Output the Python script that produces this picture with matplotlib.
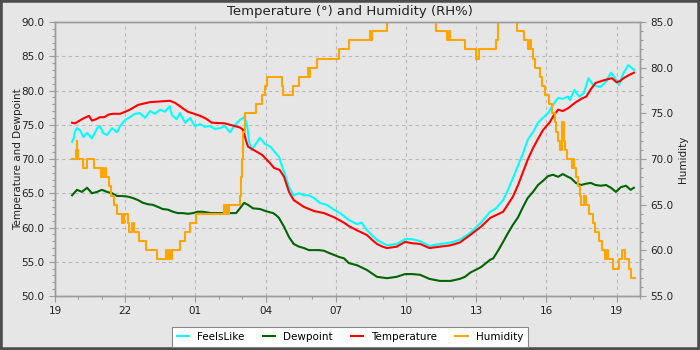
import matplotlib
matplotlib.use("Agg")
import matplotlib.pyplot as plt
from matplotlib.patches import Rectangle
from matplotlib.ticker import MultipleLocator, FuncFormatter

# Hours elapsed since 19:00 and readings for each series
temp_t = [0.73, 0.85, 1.0, 1.2, 1.45, 1.58, 1.75, 1.92, 2.1, 2.3, 2.48, 2.78, 3.0, 3.2, 3.35,
          3.55, 3.8, 4.06, 4.49, 4.91, 5.13, 5.34, 5.5, 5.68, 5.95, 6.2, 6.45, 6.7, 7.26, 7.69,
          7.9, 8.03, 8.1, 8.18, 8.25, 8.55, 8.85, 9.19, 9.36, 9.6, 9.79, 10.0, 10.2, 10.64,
          11.07, 11.5, 11.92, 12.35, 12.56, 12.9, 13.33, 13.55, 13.76, 14.0, 14.19, 14.6,
          14.96, 15.26, 15.6, 16.0, 16.45, 16.9, 17.3, 17.74, 18.2, 18.6, 19.15, 19.57, 19.8,
          20.0, 20.2, 20.43, 20.65, 20.85, 21.15, 21.3, 21.5, 21.7, 21.92, 22.26, 22.5, 22.7,
          22.9, 23.1, 23.46, 23.8, 24.0, 24.15, 24.3, 24.5, 24.74]
temperature = [75.3, 75.2, 75.5, 75.9, 76.3, 75.6, 75.8, 76.1, 76.1, 76.5, 76.6, 76.6, 76.9,
               77.2, 77.5, 77.9, 78.1, 78.3, 78.4, 78.5, 78.2, 77.7, 77.3, 76.9, 76.6, 76.3,
               75.9, 75.3, 75.2, 74.8, 74.6, 74.3, 73.5, 72.5, 71.8, 71.2, 70.6, 69.4, 68.7,
               68.4, 67.4, 65.2, 64.0, 63.0, 62.4, 62.1, 61.5, 60.7, 60.2, 59.6, 58.9, 58.2,
               57.6, 57.2, 57.0, 57.2, 57.9, 57.7, 57.6, 57.0, 57.2, 57.4, 57.8, 58.9, 60.1,
               61.4, 62.3, 64.5, 66.3, 68.1, 69.9, 71.6, 73.0, 74.2, 75.4, 76.3, 77.2, 77.0,
               77.4, 78.3, 78.8, 79.1, 80.2, 81.1, 81.5, 81.8, 81.2, 81.4, 81.8, 82.2, 82.6]

feels_t = [0.73, 0.8, 0.85, 0.94, 1.07, 1.22, 1.37, 1.58, 1.8, 1.92, 2.05, 2.22, 2.44, 2.65,
           2.78, 3.0, 3.2, 3.42, 3.63, 3.85, 4.06, 4.27, 4.49, 4.7, 4.9, 5.0, 5.2, 5.34, 5.56,
           5.77, 5.98, 6.2, 6.4, 6.62, 6.84, 7.05, 7.26, 7.48, 7.7, 7.9, 8.08, 8.2, 8.3, 8.4,
           8.6, 8.76, 8.97, 9.2, 9.4, 9.57, 9.79, 10.0, 10.2, 10.43, 10.64, 10.85, 11.07,
           11.32, 11.62, 11.92, 12.18, 12.56, 12.9, 13.1, 13.33, 13.76, 14.19, 14.6, 14.96,
           15.26, 15.6, 16.0, 16.45, 16.9, 17.3, 17.74, 18.2, 18.6, 18.85, 19.15, 19.36,
           19.57, 19.79, 20.0, 20.2, 20.43, 20.64, 20.85, 21.07, 21.28, 21.5, 21.7, 21.92,
           22.0, 22.2, 22.4, 22.6, 22.8, 23.0, 23.3, 23.5, 23.76, 23.9, 24.1, 24.3, 24.5, 24.74]
feels_like = [72.5, 73.0, 74.0, 74.5, 74.2, 73.2, 73.8, 73.0, 74.5, 74.8, 73.8, 73.5, 74.5,
              73.9, 74.8, 75.7, 76.1, 76.6, 76.7, 76.0, 77.0, 76.6, 77.2, 76.9, 77.7, 76.4,
              75.8, 76.7, 75.3, 76.0, 74.8, 75.1, 74.7, 74.8, 74.4, 74.5, 74.8, 73.9, 75.0,
              75.7, 76.1, 75.1, 72.5, 71.3, 72.3, 73.1, 72.2, 71.8, 71.0, 70.3, 68.1, 65.9,
              64.7, 65.0, 64.7, 64.7, 64.3, 63.6, 63.3, 62.6, 62.1, 61.1, 60.5, 60.7, 59.6,
              58.2, 57.4, 57.6, 58.3, 58.3, 58.0, 57.3, 57.6, 57.8, 58.2, 59.2, 60.7, 62.3,
              62.8, 64.0, 65.5, 67.2, 69.1, 70.8, 72.8, 73.9, 75.3, 76.0, 76.7, 77.9, 78.9,
              78.8, 79.1, 78.6, 80.1, 79.1, 79.6, 81.8, 80.8, 80.5, 81.1, 82.6, 82.0, 80.8,
              82.6, 83.7, 83.0]

dew_t = [0.73, 0.94, 1.15, 1.37, 1.58, 1.8, 2.0, 2.22, 2.44, 2.65, 2.86, 3.12, 3.33, 3.55,
         3.76, 3.97, 4.19, 4.4, 4.6, 4.83, 5.04, 5.26, 5.47, 5.68, 5.9, 6.1, 6.3, 6.67, 7.1,
         7.52, 7.74, 7.95, 8.08, 8.25, 8.46, 8.76, 9.0, 9.32, 9.45, 9.57, 9.79, 10.0, 10.2,
         10.43, 10.64, 10.85, 11.28, 11.5, 11.7, 11.92, 12.14, 12.35, 12.56, 12.9, 13.33,
         13.76, 14.19, 14.6, 14.96, 15.26, 15.6, 16.0, 16.45, 16.9, 17.3, 17.52, 17.74, 18.2,
         18.6, 18.73, 18.95, 19.15, 19.36, 19.57, 19.79, 20.0, 20.2, 20.43, 20.64, 20.85,
         21.07, 21.28, 21.5, 21.7, 21.92, 22.05, 22.26, 22.48, 22.7, 22.9, 23.1, 23.33,
         23.55, 23.76, 23.97, 24.19, 24.4, 24.6, 24.74]
dewpoint = [64.7, 65.5, 65.2, 65.8, 65.0, 65.2, 65.5, 65.2, 65.0, 64.6, 64.6, 64.5, 64.3,
            64.0, 63.6, 63.4, 63.3, 63.0, 62.7, 62.6, 62.3, 62.1, 62.1, 62.0, 62.1, 62.3,
            62.3, 62.1, 62.1, 62.1, 62.1, 63.0, 63.6, 63.3, 62.8, 62.7, 62.4, 62.1, 61.8,
            61.4, 60.1, 58.6, 57.6, 57.2, 57.0, 56.7, 56.7, 56.6, 56.3, 56.0, 55.7, 55.5,
            54.8, 54.5, 53.8, 52.8, 52.6, 52.8, 53.2, 53.2, 53.1, 52.5, 52.2, 52.2, 52.5,
            52.8, 53.4, 54.2, 55.3, 55.5, 56.7, 57.9, 59.2, 60.4, 61.5, 63.0, 64.3, 65.2,
            66.2, 66.8, 67.5, 67.7, 67.4, 67.8, 67.4, 67.2, 66.5, 66.2, 66.4, 66.5, 66.2,
            66.1, 66.2, 65.8, 65.2, 65.9, 66.1, 65.5, 65.8]

hum_t = [0.73, 0.88, 0.92, 0.96, 1.0, 1.2, 1.35, 1.65, 1.95, 2.0, 2.05, 2.15, 2.2, 2.3, 2.4,
         2.52, 2.65, 2.85, 2.95, 3.1, 3.18, 3.3, 3.38, 3.6, 3.9, 4.36, 4.74, 4.8, 4.86, 4.92,
         5.0, 5.34, 5.56, 5.77, 6.03, 7.22, 7.3, 7.35, 7.4, 7.45, 7.52, 7.9, 7.95, 8.0, 8.05,
         8.1, 8.59, 8.85, 8.97, 9.05, 9.7, 9.75, 10.17, 10.42, 10.8, 10.85, 10.9, 11.2, 12.14,
         12.56, 13.45, 13.5, 13.55, 14.19, 16.3, 16.75, 16.85, 16.9, 17.52, 17.99, 18.12,
         18.85, 18.95, 19.74, 20.04, 20.2, 20.3, 20.34, 20.43, 20.51, 20.73, 20.81, 20.94,
         21.11, 21.24, 21.37, 21.41, 21.5, 21.58, 21.67, 21.75, 21.79, 21.88, 22.01, 22.09,
         22.14, 22.18, 22.26, 22.35, 22.44, 22.48, 22.61, 22.69, 22.82, 22.99, 23.08, 23.25,
         23.38, 23.5, 23.59, 23.63, 23.85, 24.1, 24.23, 24.36, 24.53, 24.62, 24.79]
humidity = [70, 71, 72, 71, 70, 69, 70, 69, 68, 69, 68, 69, 68, 67, 66,
            65, 64, 63, 64, 63, 62, 63, 62, 61, 60, 59, 60, 59, 60, 59,
            60, 61, 62, 63, 64, 65, 64, 65, 64, 65, 65, 66, 68, 70, 73,
            75, 76, 77, 78, 79, 78, 77, 78, 79, 80, 79, 80, 81, 82,
            83, 84, 83, 84, 86, 84, 83, 84, 83, 82, 81, 82,
            83, 86, 84, 83, 82, 83, 82, 81, 80, 79, 78, 77,
            76, 75, 74, 73, 72, 71, 74, 72, 71, 70, 70, 69,
            70, 69, 68, 67, 66, 65, 66, 65, 64, 63, 62, 61,
            60, 59, 60, 59, 58, 59, 60, 59, 58, 57, 57]

hour_ticks = ["19", "22", "01", "04", "07", "10", "13", "16", "19"]

BG = "#e6e6e6"
GRID = "#b8b8b8"
SPINE = "#9a9a9a"
TXT = "#222222"

plt.rcParams["font.family"] = ["DejaVu Sans"]
plt.rcParams["font.size"] = 7.5

fig = plt.figure(figsize=(7, 3.5), dpi=100, facecolor=BG)
ax = fig.add_axes([55 / 700, 1 - 296 / 350, (640 - 55) / 700, (296 - 22) / 350])
ax.set_facecolor(BG)
ax2 = ax.twinx()

l_feels, = ax.plot(feels_t, feels_like, color="#00ffff", lw=1.5, label="FeelsLike")
l_dew, = ax.plot(dew_t, dewpoint, color="#006400", lw=1.5, label="Dewpoint")
l_temp, = ax.plot(temp_t, temperature, color="#ff0000", lw=1.5, label="Temperature")
l_hum, = ax2.plot(hum_t, humidity, color="#ffa500", lw=1.5, drawstyle="steps-post",
                  label="Humidity")

ax.set_xlim(0, 25)
ax.set_ylim(50, 90)
ax2.set_ylim(55, 85)

ax.xaxis.set_major_locator(MultipleLocator(3))
ax.xaxis.set_minor_locator(MultipleLocator(1))
ax.xaxis.set_major_formatter(FuncFormatter(
    lambda v, p: hour_ticks[int(round(v / 3))] if 0 <= round(v / 3) < len(hour_ticks) else ""))
ax.yaxis.set_major_locator(MultipleLocator(5))
ax.yaxis.set_minor_locator(MultipleLocator(1))
ax.yaxis.set_major_formatter(FuncFormatter(lambda v, p: f"{v:.1f}"))
ax2.yaxis.set_major_locator(MultipleLocator(5))
ax2.yaxis.set_minor_locator(MultipleLocator(1))
ax2.yaxis.set_major_formatter(FuncFormatter(lambda v, p: f"{v:.1f}"))

for a in (ax, ax2):
    a.tick_params(which="major", length=4, width=0.8, color=SPINE, labelcolor=TXT, labelsize=7.5)
    a.tick_params(which="minor", length=2, width=0.8, color=SPINE)
    for s in a.spines.values():
        s.set_color(SPINE)
        s.set_linewidth(1.0)

ax.grid(True, which="major", color=GRID, linestyle=(0, (3, 3)), linewidth=0.8)
ax.set_axisbelow(True)

ax.set_ylabel("Temperature and Dewpoint", color=TXT, fontsize=7.5, labelpad=-1)
ax2.set_ylabel("Humidity", color=TXT, fontsize=7.5, labelpad=3)
fig.suptitle("Temperature (°) and Humidity (RH%)", y=1 - 11 / 350, va="center",
             fontsize=9.5, color=TXT)

leg = fig.legend(handles=[l_feels, l_dew, l_temp, l_hum], loc="center",
                 bbox_to_anchor=(0.5, 1 - 337 / 350), ncol=4, fancybox=False,
                 framealpha=1, facecolor="white", edgecolor="#888888",
                 handlelength=1.2, columnspacing=1.7, handletextpad=0.8,
                 borderpad=0.45, fontsize=7.5)
leg.get_frame().set_linewidth(0.8)

fig.patches.append(Rectangle((0, 0), 1, 1, transform=fig.transFigure, fill=False,
                             edgecolor="#4d4d4d", linewidth=4))

fig.savefig("out.png", dpi=100, facecolor=BG)
